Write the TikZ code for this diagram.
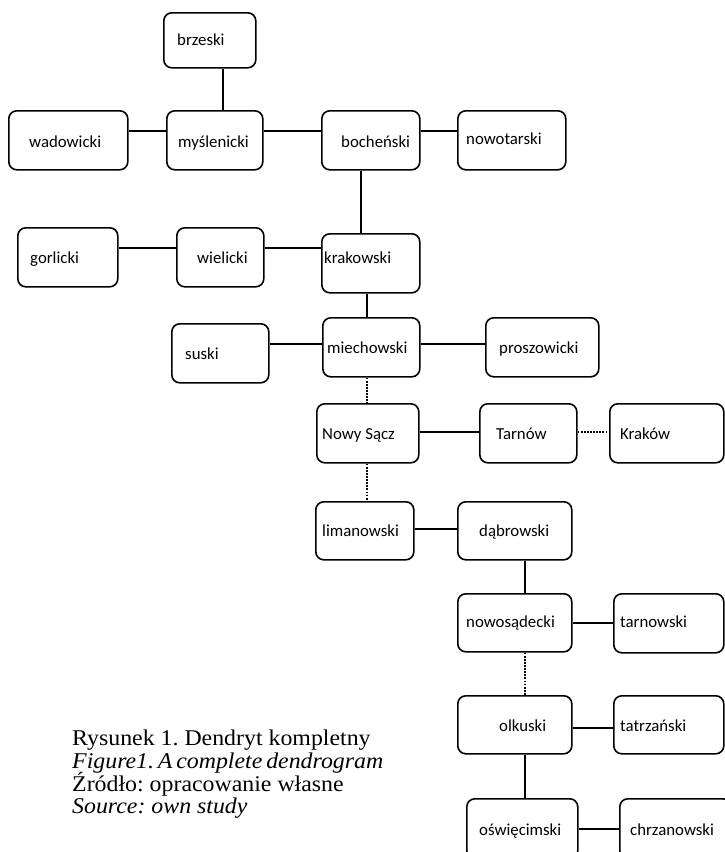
\documentclass[tikz,border=0pt]{standalone}
\usepackage{fontspec}
\setmainfont{Carlito}
\newfontfamily\capfont[FakeStretch=1.06]{Liberation Serif}
\usetikzlibrary{calc}
\frenchspacing
\newcommand\ubox[5]{\node[box, anchor=north west, minimum width={(#4-#2)*1pt}, minimum height={(#5-#3)*1pt}] (#1) at (#2,#3) {};}
\begin{document}
\begin{tikzpicture}[x=1pt,y=-1pt,
  box/.style={draw, line width=1.6pt, rounded corners=8pt, inner sep=0pt},
  lbl/.style={anchor=base west, inner sep=0pt, font=\fontsize{16.8}{18}\selectfont},
  captext/.style={anchor=base west, inner sep=0pt, font=\capfont\fontsize{22.5}{23}\selectfont},
  link/.style={line width=1.6pt},
  dotlink/.style={line width=2.4pt, dash pattern=on 1.8pt off 1.3pt}]
\useasboundingbox (0,0) rectangle (725,852);
\clip (0,0) rectangle (725,852);
% boxes
\ubox{brzeski}{163}{12}{255}{67}
\ubox{wadowicki}{8}{110}{127}{169}
\ubox{myslenicki}{166}{110}{262}{169}
\ubox{bochenski}{321}{110}{419}{169}
\ubox{nowotarski}{457}{110}{565}{169}
\ubox{gorlicki}{17}{227}{117}{286}
\ubox{wielicki}{176}{227}{263}{286}
\ubox{krakowski}{321}{233}{419}{292}
\ubox{suski}{171}{323}{268}{382}
\ubox{miechowski}{322}{317}{419}{376}
\ubox{proszowicki}{485}{317}{598}{376}
\ubox{nowysacz}{316}{403}{418}{462}
\ubox{tarnow}{479}{403}{576}{462}
\ubox{krakow}{609}{403}{723}{462}
\ubox{limanowski}{315}{501}{413}{559}
\ubox{dabrowski}{457}{501}{571}{559}
\ubox{nowosadecki}{457}{593}{571}{651}
\ubox{tarnowski}{613}{593}{723}{652}
\ubox{olkuski}{457}{695}{571}{753}
\ubox{tatrzanski}{613}{695}{723}{753}
\ubox{oswiecimski}{466}{798}{577}{858}
\ubox{chrzanowski}{619}{798}{730}{858}
% labels
\node[lbl] (t-brzeski) at (177,45) {brzeski};
\node[lbl] (t-wadowicki) at (29,147) {wadowicki};
\node[lbl] (t-myslenicki) at (178,147) {myślenicki};
\node[lbl] (t-bochenski) at (341,147) {bocheński};
\node[lbl] (t-nowotarski) at (466,144) {nowotarski};
\node[lbl] (t-gorlicki) at (30,263) {gorlicki};
\node[lbl] (t-wielicki) at (197,263) {wielicki};
\node[lbl] (t-krakowski) at (324,263) {krakowski};
\node[lbl] (t-suski) at (185,359) {suski};
\node[lbl] (t-miechowski) at (327,353) {miechowski};
\node[lbl] (t-proszowicki) at (499,353) {proszowicki};
\node[lbl] (t-nowysacz) at (322,439) {Nowy Sącz};
\node[lbl] (t-tarnow) at (496,439) {Tarnów};
\node[lbl] (t-krakow) at (620,439) {Kraków};
\node[lbl] (t-limanowski) at (322,536) {limanowski};
\node[lbl] (t-dabrowski) at (479,536) {dąbrowski};
\node[lbl] (t-nowosadecki) at (466,627) {nowosądecki};
\node[lbl] (t-tarnowski) at (620,627) {tarnowski};
\node[lbl] (t-olkuski) at (499,731) {olkuski};
\node[lbl] (t-tatrzanski) at (620,731) {tatrzański};
\node[lbl] (t-oswiecimski) at (479,835) {oświęcimski};
\node[lbl] (t-chrzanowski) at (630,835) {chrzanowski};
% connectors
\draw[link] ([xshift=13pt]brzeski.south) -- ([xshift=8pt]myslenicki.north);
\draw[link] ([yshift=9.5pt]wadowicki.east) -- ([yshift=9.5pt]myslenicki.west);
\draw[link] ([yshift=9.5pt]myslenicki.east) -- ([yshift=9.5pt]bochenski.west);
\draw[link] ([yshift=9.5pt]bochenski.east) -- ([yshift=9.5pt]nowotarski.west);
\draw[link] ([xshift=-10pt]bochenski.south) -- ([xshift=-10pt]krakowski.north);
\draw[link] ([yshift=9.5pt]gorlicki.east) -- ([yshift=9.5pt]wielicki.west);
\draw[link] ([yshift=9.5pt]wielicki.east) -- ([yshift=15.5pt]krakowski.west);
\draw[link] ([xshift=-4pt]krakowski.south) -- ([xshift=-4.5pt]miechowski.north);
\draw[link] ([yshift=9.5pt]suski.east) -- ([yshift=3.5pt]miechowski.west);
\draw[link] ([yshift=3.5pt]miechowski.east) -- ([yshift=3.5pt]proszowicki.west);
\draw[dotlink] ([xshift=-4.5pt]miechowski.south) -- ([xshift=-1pt]nowysacz.north);
\draw[link] ([yshift=1.5pt]nowysacz.east) -- ([yshift=1.5pt]tarnow.west);
\draw[dotlink] ([yshift=1.5pt]tarnow.east) -- ([yshift=1.5pt]krakow.west);
\draw[dotlink] ([xshift=-1pt]nowysacz.south) -- ([xshift=2pt]limanowski.north);
\draw[link] ([yshift=2pt]limanowski.east) -- ([yshift=2pt]dabrowski.west);
\draw[link] ([xshift=10pt]dabrowski.south) -- ([xshift=10pt]nowosadecki.north);
\draw[link] (nowosadecki.east) -- (nowosadecki.east -| tarnowski.west);
\draw[dotlink] ([xshift=10pt]nowosadecki.south) -- ([xshift=10pt]olkuski.north);
\draw[link] ([yshift=-3pt]olkuski.east) -- ([yshift=-3pt]tatrzanski.west);
\draw[link] ([xshift=10pt]olkuski.south) -- ([xshift=2.5pt]oswiecimski.north);
\draw[link] (oswiecimski.east) -- (chrzanowski.west);
% caption
\node[captext] (cap1) at (72,745) {Rysunek 1. Dendryt kompletny};
\node[captext] (cap2) at (72,768) {\itshape\spaceskip=0.17em Figure1. A complete dendrogram};
\node[captext] (cap3) at (72,791) {Źródło: opracowanie własne};
\node[captext] (cap4) at (72,813) {\itshape Source: own study};
\end{tikzpicture}
\end{document}
